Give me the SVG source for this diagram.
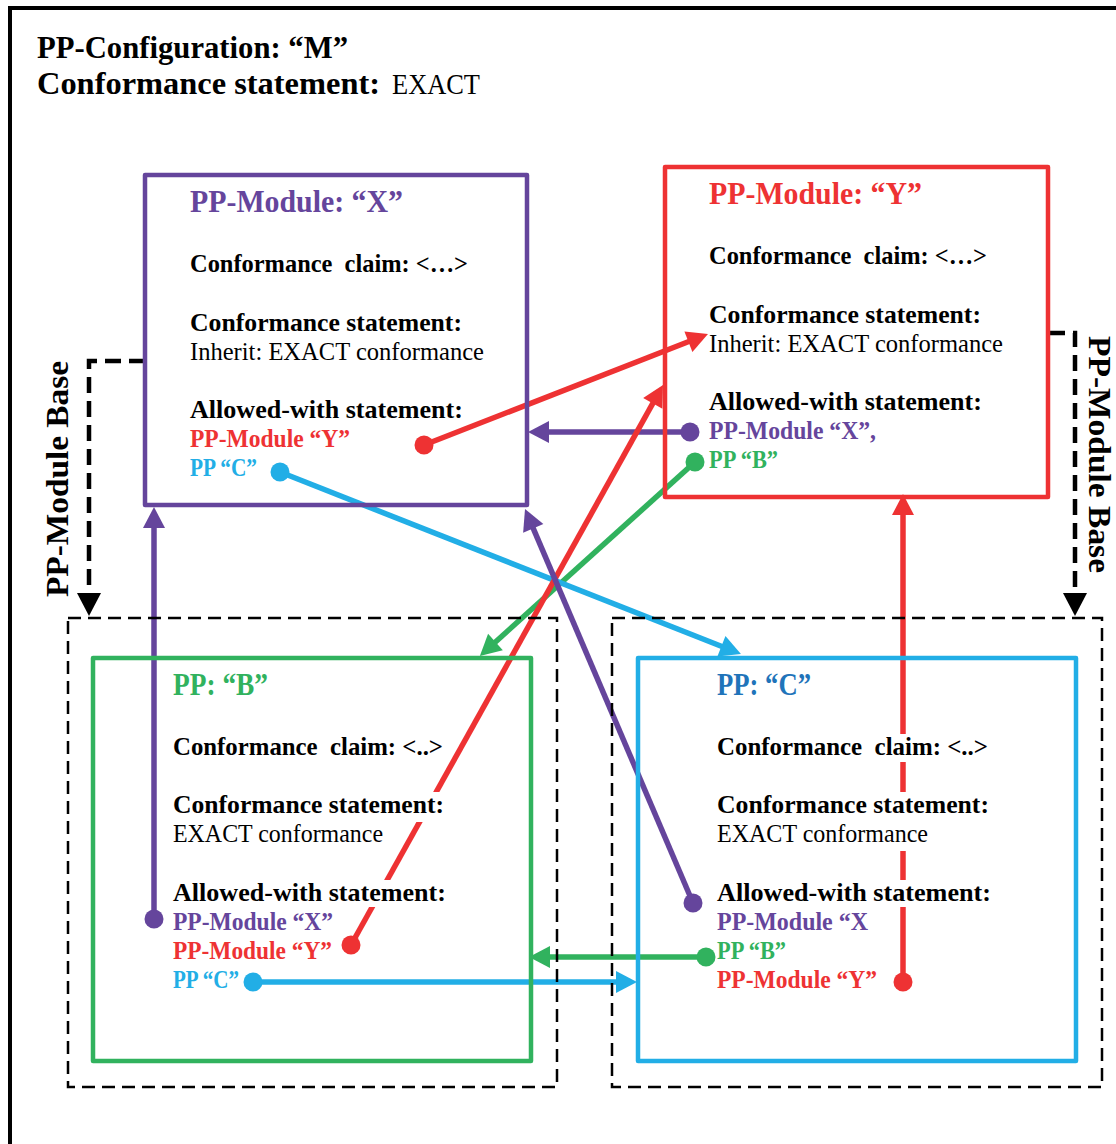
<svg xmlns="http://www.w3.org/2000/svg" width="1116" height="1144" viewBox="0 0 1116 1144">
<style>
text{font-family:"Liberation Serif","Times New Roman",serif;white-space:pre}
.b{font-weight:bold;font-size:25px}
.n{font-weight:normal;font-size:25px}
.t{font-weight:bold;font-size:31px}
.k{fill:#000}
.pu{fill:#65459C}
.rd{fill:#EE3233}
.gr{fill:#31B25E}
.bl{fill:#22AEE6}
.dbl{fill:#1F74BA}
.bg{fill:#fff}
.box{fill:none;stroke-width:4.5;stroke-linejoin:round}
.dash{fill:none;stroke:#000;stroke-width:2.5;stroke-dasharray:13 7}
.ln{fill:none;stroke-width:5.5}
.bd{fill:none;stroke:#000;stroke-width:4.5;stroke-dasharray:16 8}
</style>
<defs>
<marker id="aP" markerUnits="userSpaceOnUse" viewBox="-8 -12 26 24" markerWidth="26" markerHeight="24" refX="0" refY="0" orient="auto"><path d="M-6,-11 L15,0 L-6,11 z" fill="#65459C"/></marker>
<marker id="aR" markerUnits="userSpaceOnUse" viewBox="-8 -12 26 24" markerWidth="26" markerHeight="24" refX="0" refY="0" orient="auto"><path d="M-6,-11 L15,0 L-6,11 z" fill="#EE3233"/></marker>
<marker id="aG" markerUnits="userSpaceOnUse" viewBox="-8 -12 26 24" markerWidth="26" markerHeight="24" refX="0" refY="0" orient="auto"><path d="M-6,-11 L15,0 L-6,11 z" fill="#31B25E"/></marker>
<marker id="aB" markerUnits="userSpaceOnUse" viewBox="-8 -12 26 24" markerWidth="26" markerHeight="24" refX="0" refY="0" orient="auto"><path d="M-6,-11 L15,0 L-6,11 z" fill="#22AEE6"/></marker>
<marker id="aK" markerUnits="userSpaceOnUse" viewBox="-8 -14 28 28" markerWidth="28" markerHeight="28" refX="0" refY="0" orient="auto"><path d="M-6,-12 L17,0 L-6,12 z" fill="#000"/></marker>
</defs>
<rect width="1116" height="1144" fill="#fff"/>

<g id="config-M">
<rect x="10" y="8" width="1200" height="1200" fill="none" stroke="#000" stroke-width="4"/>
<text class="t k" x="37" y="58" textLength="311" lengthAdjust="spacingAndGlyphs">PP-Configuration: “M”</text>
<text class="t k" x="37" y="94" textLength="343" lengthAdjust="spacingAndGlyphs">Conformance statement:</text>
<text class="k" x="392" y="94" font-size="30" textLength="88" lengthAdjust="spacingAndGlyphs">EXACT</text>
</g>

<g id="connectors">
<path class="bd" d="M145,361 H89 V599" marker-end="url(#aK)"/>
<path class="bd" d="M1049,333 H1075 V599" marker-end="url(#aK)"/>
<line class="ln" stroke="#EE3233" x1="424" y1="445" x2="694" y2="339.5" marker-end="url(#aR)"/>
<circle cx="424" cy="445" r="9.5" class="rd"/>
<line class="ln" stroke="#65459C" x1="690" y1="432" x2="543" y2="432" marker-end="url(#aP)"/>
<circle cx="690" cy="432" r="9.5" class="pu"/>
<line class="ln" stroke="#31B25E" x1="695" y1="462" x2="491" y2="646" marker-end="url(#aG)"/>
<circle cx="695" cy="462" r="9.5" class="gr"/>
<line class="ln" stroke="#22AEE6" x1="280" y1="472" x2="727" y2="648.5" marker-end="url(#aB)"/>
<circle cx="280" cy="472" r="9.5" class="bl"/>
<line class="ln" stroke="#65459C" x1="154" y1="919" x2="154" y2="522" marker-end="url(#aP)"/>
<circle cx="154" cy="919" r="9.5" class="pu"/>
<line class="ln" stroke="#EE3233" x1="351" y1="945" x2="655.7" y2="398.1" marker-end="url(#aR)"/>
<circle cx="351" cy="945" r="9.5" class="rd"/>
<line class="ln" stroke="#65459C" x1="693" y1="903" x2="530.9" y2="522.8" marker-end="url(#aP)"/>
<circle cx="693" cy="903" r="9.5" class="pu"/>
<line class="ln" stroke="#31B25E" x1="706" y1="957" x2="544" y2="957" marker-end="url(#aG)"/>
<circle cx="706" cy="957" r="9.5" class="gr"/>
<line class="ln" stroke="#22AEE6" x1="253" y1="982" x2="622" y2="982" marker-end="url(#aB)"/>
<circle cx="253" cy="982" r="9.5" class="bl"/>
<line class="ln" stroke="#EE3233" x1="903" y1="982" x2="903" y2="509" marker-end="url(#aR)"/>
<circle cx="903" cy="982" r="9.5" class="rd"/>
</g>

<g id="label-base-left">
<text class="t k" font-size="32" transform="translate(68,597) rotate(-90)" textLength="236" lengthAdjust="spacingAndGlyphs">PP-Module Base</text>
</g>
<g id="label-base-right">
<text class="t k" font-size="29" transform="translate(1089,336) rotate(90)" textLength="237" lengthAdjust="spacingAndGlyphs">PP-Module Base</text>
</g>

<g id="module-X">
<rect class="box" stroke="#65459C" x="145" y="175" width="382" height="330"/>
<text class="t pu" x="190" y="212" textLength="213" lengthAdjust="spacingAndGlyphs">PP-Module: “X”</text>
<text class="b k" x="190" y="272" textLength="278" lengthAdjust="spacingAndGlyphs">Conformance  claim: &lt;…&gt;</text>
<text class="b k" x="190" y="331" textLength="272" lengthAdjust="spacingAndGlyphs">Conformance statement:</text>
<text class="n k" x="190" y="360" textLength="294" lengthAdjust="spacingAndGlyphs">Inherit: EXACT conformance</text>
<text class="b k" x="190" y="418" textLength="273" lengthAdjust="spacingAndGlyphs">Allowed-with statement:</text>
<text class="b rd" x="190" y="447" textLength="160" lengthAdjust="spacingAndGlyphs">PP-Module “Y”</text>
<text class="b bl" x="190" y="476" textLength="67" lengthAdjust="spacingAndGlyphs">PP “C”</text>
</g>

<g id="module-Y">
<rect class="box" stroke="#EE3233" x="665" y="167" width="383" height="330"/>
<text class="t rd" x="709" y="204" textLength="213" lengthAdjust="spacingAndGlyphs">PP-Module: “Y”</text>
<text class="b k" x="709" y="264" textLength="278" lengthAdjust="spacingAndGlyphs">Conformance  claim: &lt;…&gt;</text>
<text class="b k" x="709" y="323" textLength="272" lengthAdjust="spacingAndGlyphs">Conformance statement:</text>
<text class="n k" x="709" y="352" textLength="294" lengthAdjust="spacingAndGlyphs">Inherit: EXACT conformance</text>
<text class="b k" x="709" y="410" textLength="273" lengthAdjust="spacingAndGlyphs">Allowed-with statement:</text>
<text class="b pu" x="709" y="439" textLength="167" lengthAdjust="spacingAndGlyphs">PP-Module “X”,</text>
<text class="b gr" x="709" y="468" textLength="69" lengthAdjust="spacingAndGlyphs">PP “B”</text>
</g>

<g id="pp-B">
<rect class="dash" x="68" y="618" width="489" height="469"/>
<rect class="box" stroke="#31B25E" x="93" y="658" width="438" height="403"/>
<rect class="bg" x="171" y="734" width="275" height="28"/>
<rect class="bg" x="171" y="792" width="276" height="30"/>
<rect class="bg" x="171" y="822" width="215" height="29"/>
<rect class="bg" x="171" y="880" width="278" height="27"/>
<text class="t gr" x="173" y="695" textLength="95" lengthAdjust="spacingAndGlyphs">PP: “B”</text>
<text class="b k" x="173" y="755" textLength="270" lengthAdjust="spacingAndGlyphs">Conformance  claim: &lt;..&gt;</text>
<text class="b k" x="173" y="813" textLength="271" lengthAdjust="spacingAndGlyphs">Conformance statement:</text>
<text class="n k" x="173" y="842" textLength="210" lengthAdjust="spacingAndGlyphs">EXACT conformance</text>
<text class="b k" x="173" y="901" textLength="273" lengthAdjust="spacingAndGlyphs">Allowed-with statement:</text>
<text class="b pu" x="173" y="930" textLength="160" lengthAdjust="spacingAndGlyphs">PP-Module “X”</text>
<text class="b rd" x="173" y="959" textLength="159" lengthAdjust="spacingAndGlyphs">PP-Module “Y”</text>
<text class="b bl" x="173" y="988" textLength="66" lengthAdjust="spacingAndGlyphs">PP “C”</text>
</g>

<g id="pp-C">
<rect class="dash" x="612" y="618" width="490" height="469"/>
<rect class="box" stroke="#22AEE6" x="638" y="658" width="438" height="403"/>
<rect class="bg" x="715" y="734" width="276" height="28"/>
<rect class="bg" x="715" y="792" width="277" height="30"/>
<rect class="bg" x="715" y="822" width="216" height="29"/>
<rect class="bg" x="715" y="880" width="279" height="27"/>
<text class="t dbl" x="717" y="695" textLength="94" lengthAdjust="spacingAndGlyphs">PP: “C”</text>
<text class="b k" x="717" y="755" textLength="271" lengthAdjust="spacingAndGlyphs">Conformance  claim: &lt;..&gt;</text>
<text class="b k" x="717" y="813" textLength="272" lengthAdjust="spacingAndGlyphs">Conformance statement:</text>
<text class="n k" x="717" y="842" textLength="211" lengthAdjust="spacingAndGlyphs">EXACT conformance</text>
<text class="b k" x="717" y="901" textLength="274" lengthAdjust="spacingAndGlyphs">Allowed-with statement:</text>
<text class="b pu" x="717" y="930" textLength="151" lengthAdjust="spacingAndGlyphs">PP-Module “X</text>
<text class="b gr" x="717" y="959" textLength="69" lengthAdjust="spacingAndGlyphs">PP “B”</text>
<text class="b rd" x="717" y="988" textLength="160" lengthAdjust="spacingAndGlyphs">PP-Module “Y”</text>
</g>
</svg>
